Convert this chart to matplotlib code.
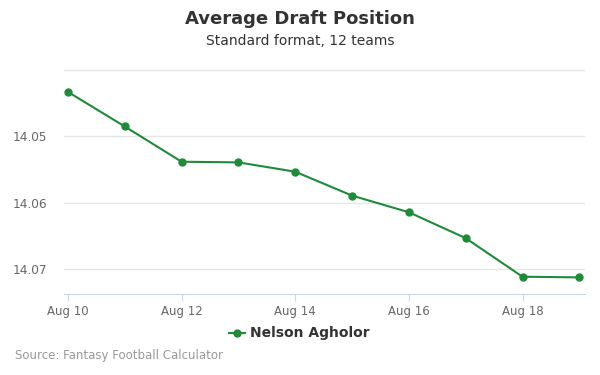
import matplotlib
matplotlib.use("Agg")
import matplotlib.pyplot as plt

days = [10, 11, 12, 13, 14, 15, 16, 17, 18, 19]
adp = [14.0433, 14.0485, 14.0538, 14.0539, 14.0553, 14.0589, 14.0614, 14.0653, 14.0711, 14.0712]
xtick_days = [10, 12, 14, 16, 18]
xtick_labels = ["Aug 10", "Aug 12", "Aug 14", "Aug 16", "Aug 18"]
ytick_vals = [14.04, 14.05, 14.06, 14.07]
ytick_labels = ["", "14.05", "14.06", "14.07"]
series_name = "Nelson Agholor"

green = "#1f8b3a"
fig = plt.figure(figsize=(6, 3.75), dpi=100)
ax = fig.add_axes([64/600, 1-294/375, (585-64)/600, (294-68)/375])

ax.plot(days, adp, color=green, lw=1.5, marker="o", ms=5, zorder=3)
ax.set_xlim(9.93, 19.1)
ax.set_ylim(14.0737, 14.0397)
ax.set_yticks(ytick_vals)
ax.set_yticklabels(ytick_labels)
ax.set_xticks(xtick_days)
ax.set_xticklabels(xtick_labels)
ax.grid(axis="y", color="#e6e6e6", lw=1)
ax.set_axisbelow(True)
for s in ["top", "right", "left"]:
    ax.spines[s].set_visible(False)
ax.spines["bottom"].set_color("#ccd6eb")
ax.tick_params(axis="y", length=0, labelsize=8.7, labelcolor="#666666", pad=12)
ax.tick_params(axis="x", length=5, color="#ccd6eb", labelsize=8.5, labelcolor="#666666", pad=3)

fig.text(0.5, 1-19/375, "Average Draft Position", ha="center", va="center",
         fontsize=13, fontweight="bold", color="#333333")
fig.text(0.5, 1-41/375, "Standard format, 12 teams", ha="center", va="center",
         fontsize=10, color="#333333")

# legend
fig.lines.append(plt.Line2D([229/600, 245/600], [1-333/375, 1-333/375], color=green, lw=1.5,
                            transform=fig.transFigure))
fig.lines.append(plt.Line2D([237/600], [1-333/375], color=green, marker="o", ms=5,
                            transform=fig.transFigure))
fig.text(250/600, 1-333/375, series_name, ha="left", va="center", fontsize=10,
         fontweight="bold", color="#333333")
fig.text(15/600, 1-356/375, "Source: Fantasy Football Calculator", ha="left", va="center",
         fontsize=8.5, color="#999999")

fig.savefig("out.png", dpi=100)
